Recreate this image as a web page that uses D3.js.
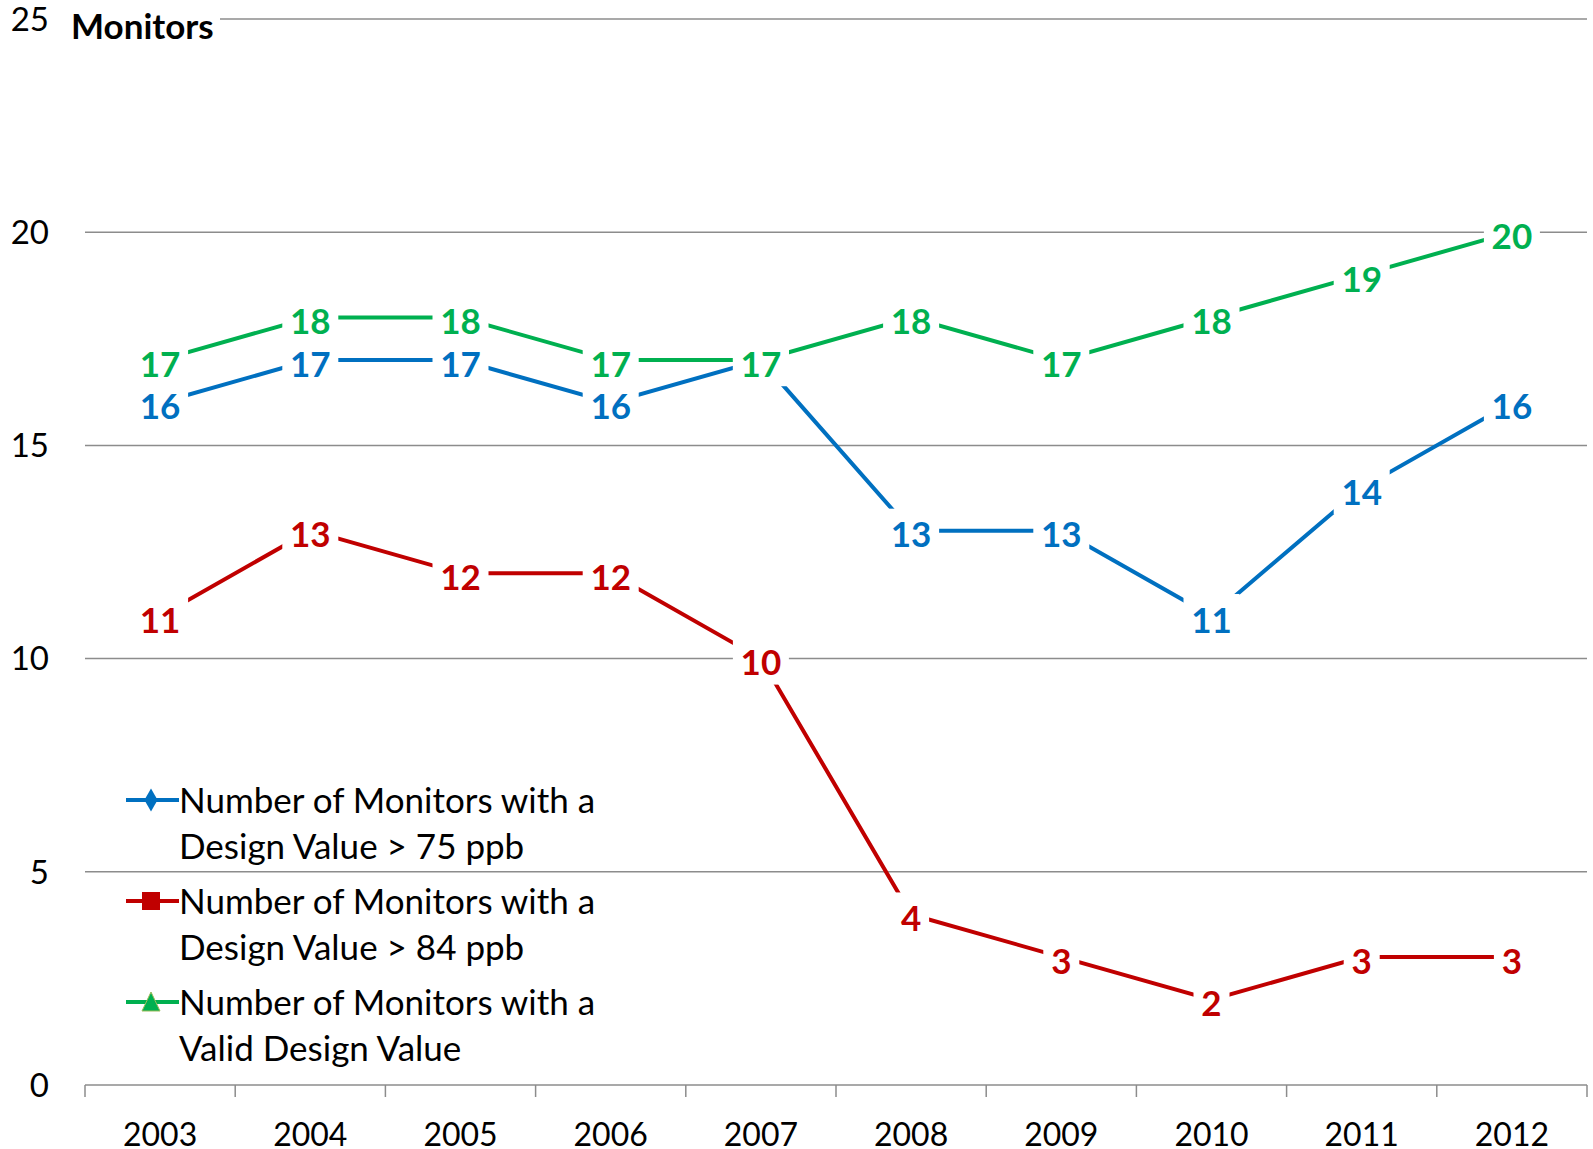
<!DOCTYPE html>
<html>
<head>
<meta charset="utf-8">
<script src="https://cdn.jsdelivr.net/npm/d3@7"></script>
<style>
  body { margin: 0; background: #fff; }
  svg { display: block; font-family: Lato, "Open Sans", sans-serif; }
</style>
</head>
<body>
<div id="app"></div>
<script>
// data
const years = [2003, 2004, 2005, 2006, 2007, 2008, 2009, 2010, 2011, 2012];
const over75 = [16, 17, 17, 16, 17, 13, 13, 11, 14, 16];
const over84 = [11, 13, 12, 12, 10, 4, 3, 2, 3, 3];
const validDV = [17, 18, 18, 17, 17, 18, 17, 18, 19, 20];
const yTicks = [0, 5, 10, 15, 20, 25];

const series = [
  { name: ["Number of Monitors with a", "Design Value > 75 ppb"], values: over75, color: "#0070C0", marker: "diamond" },
  { name: ["Number of Monitors with a", "Design Value > 84 ppb"], values: over84, color: "#C00000", marker: "square" },
  { name: ["Number of Monitors with a", "Valid Design Value"], values: validDV, color: "#00B050", marker: "triangle" }
];

var w = 1593, h = 1149;
const plotL = 85, plotR = 1587, plotT = 19, plotB = 1085;

const svg = d3.select("#app").append("svg")
  .attr("width", w)
  .attr("height", h);

const x = d3.scaleBand().domain(years).range([plotL, plotR]).padding(0);
const y = d3.scaleLinear().domain([0, 25]).range([plotB, plotT]);

// gridlines
svg.append("g").selectAll("line")
  .data(yTicks.filter(d => d > 0))
  .enter().append("line")
  .attr("x1", plotL).attr("x2", plotR)
  .attr("y1", d => y(d)).attr("y2", d => y(d))
  .attr("stroke", "#8c8c8c").attr("stroke-width", 1.5);

// y tick labels
svg.append("g").selectAll("text")
  .data(yTicks)
  .enter().append("text")
  .attr("x", 49).attr("y", d => y(d))
  .attr("dy", "0.36em")
  .attr("text-anchor", "end")
  .style("font-size", "33px")
  .attr("fill", "#000")
  .text(d => d);

// "Monitors" label over the top gridline
svg.append("rect")
  .attr("x", 60).attr("y", plotT - 18).attr("width", 160).attr("height", 40)
  .attr("fill", "#fff");
svg.append("text")
  .attr("x", 71).attr("y", plotT + 7)
  .attr("dy", "0.36em")
  .style("font-size", "35px").style("font-weight", "bold")
  .text("Monitors");

// x axis
const xAxis = svg.append("g").attr("transform", "translate(0," + plotB + ")");
xAxis.append("line")
  .attr("x1", plotL).attr("x2", plotR)
  .attr("stroke", "#8c8c8c").attr("stroke-width", 1.5);
xAxis.selectAll(".tick-mark")
  .data(years.map(d => x(d)).concat([plotR]))
  .enter().append("line")
  .attr("class", "tick-mark")
  .attr("x1", d => d).attr("x2", d => d)
  .attr("y1", 0).attr("y2", 12)
  .attr("stroke", "#8c8c8c").attr("stroke-width", 1.5);
xAxis.selectAll(".year")
  .data(years)
  .enter().append("text")
  .attr("class", "year")
  .attr("x", d => x(d) + x.bandwidth() / 2)
  .attr("y", 49)
  .attr("dy", "0.36em")
  .attr("text-anchor", "middle")
  .style("font-size", "32px")
  .text(d => d);

const cx = d => x(d) + x.bandwidth() / 2;
const line = d3.line().x((d, i) => cx(years[i])).y(d => y(d));

// lines
series.forEach(s => {
  svg.append("path")
    .datum(s.values)
    .attr("fill", "none")
    .attr("stroke", s.color)
    .attr("stroke-width", 4)
    .attr("d", line);
});

// data labels with white boxes
series.forEach(s => {
  const g = svg.append("g");
  const lab = g.selectAll("g")
    .data(s.values)
    .enter().append("g")
    .attr("transform", (d, i) => "translate(" + cx(years[i]) + "," + y(d) + ")");
  lab.append("rect")
    .attr("x", d => (String(d).length === 1 ? -18 : -28))
    .attr("width", d => (String(d).length === 1 ? 36 : 56))
    .attr("y", -22).attr("height", 48)
    .attr("fill", "#fff");
  lab.append("text")
    .attr("text-anchor", "middle")
    .attr("dy", "0.42em")
    .attr("y", 2)
    .attr("fill", s.color)
    .style("font-size", "35px").style("font-weight", "bold")
    .text(d => d);
});

// legend
const legX = 126, legY = 800, entryGap = 101, lineGap = 46;
const leg = svg.append("g");
series.forEach((s, i) => {
  const g = leg.append("g").attr("transform", "translate(" + legX + "," + (legY + i * entryGap) + ")");
  g.append("line").attr("x1", 0).attr("x2", 53)
    .attr("stroke", s.color).attr("stroke-width", 4);
  if (s.marker === "diamond") {
    g.append("path").attr("d", d3.symbol(d3.symbolDiamond, 150)()).attr("transform", "translate(25,0)").attr("fill", s.color);
  } else if (s.marker === "square") {
    g.append("rect").attr("x", 16).attr("y", -9).attr("width", 18).attr("height", 18).attr("fill", s.color);
  } else {
    g.append("path").attr("d", "M25,-10 L34,9 L16,9 Z").attr("fill", s.color).attr("stroke", "#9bbb59").attr("stroke-width", 1);
  }
  g.selectAll("text")
    .data(s.name)
    .enter().append("text")
    .attr("x", 53).attr("y", (d, j) => j * lineGap)
    .attr("dy", "0.36em")
    .style("font-size", "35px")
    .text(d => d);
});
</script>
</body>
</html>
